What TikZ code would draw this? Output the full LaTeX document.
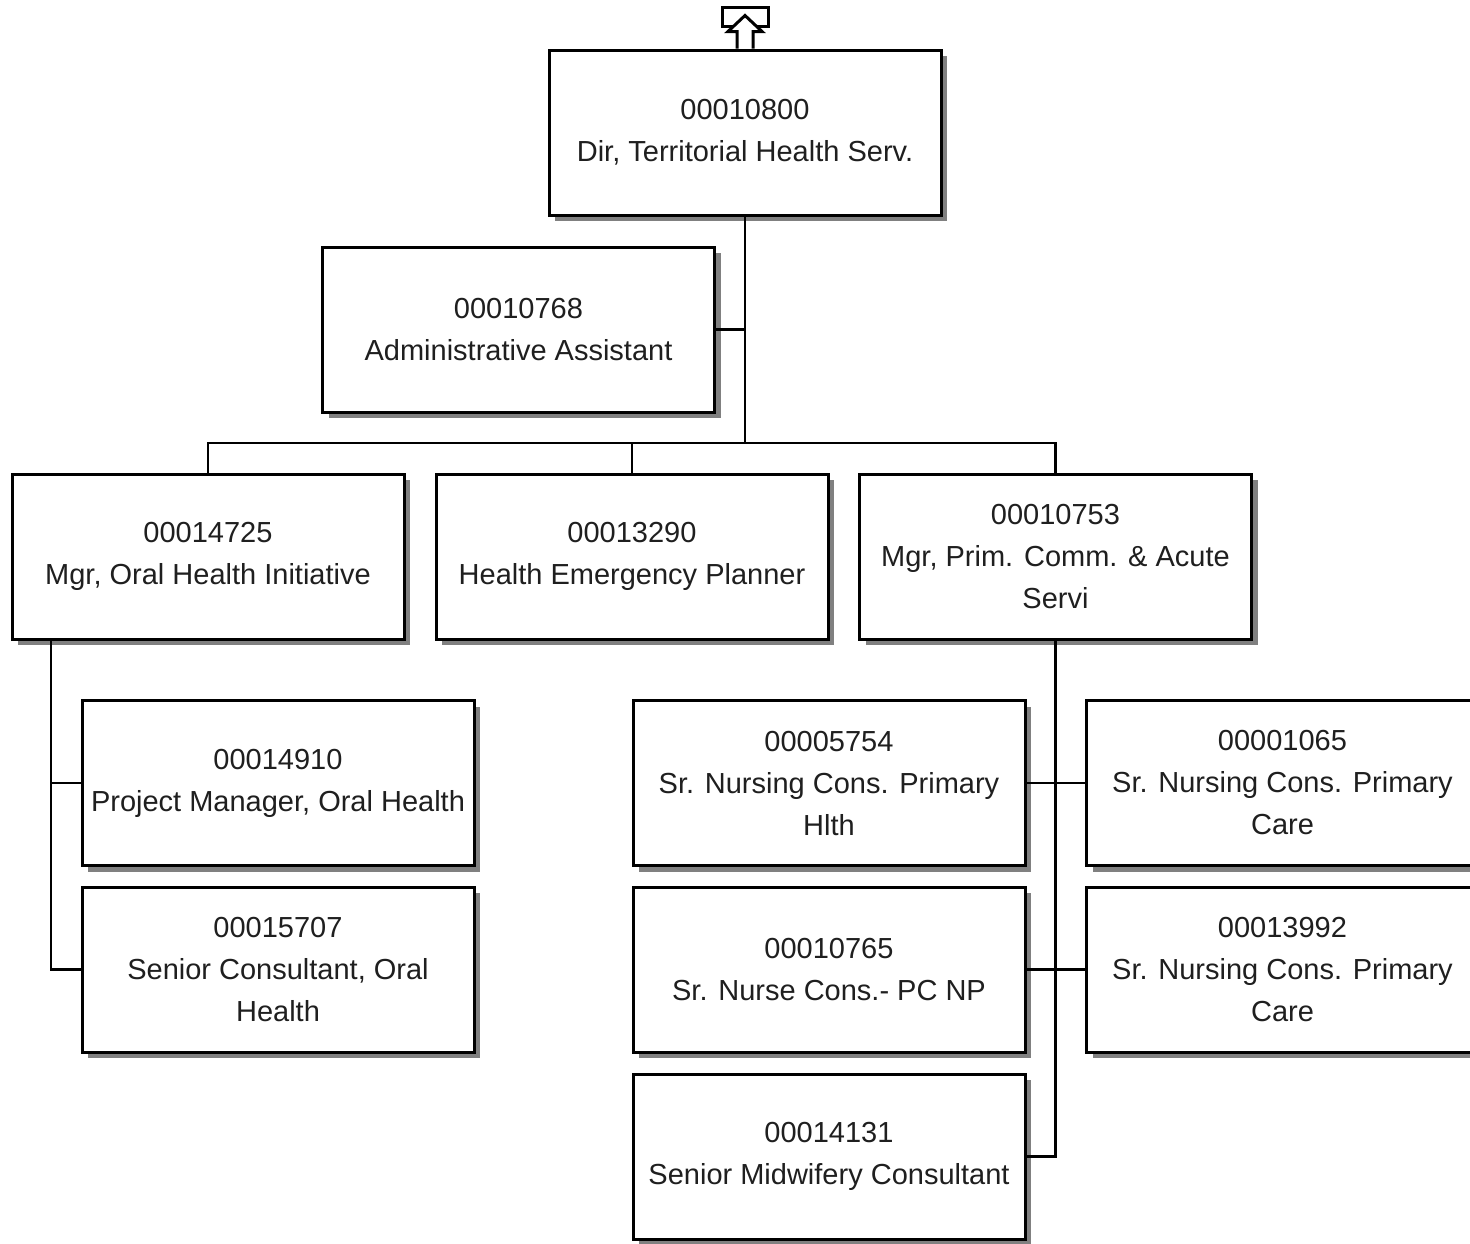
\documentclass[tikz,border=0pt]{standalone}
\usepackage{fontspec}
\setmainfont{Liberation Sans}
\usetikzlibrary{shadows}
\begin{document}
\begin{tikzpicture}[x=1pt,y=-1pt,
  posbox/.style={draw=black,line width=3pt,fill=white,minimum width=392pt,minimum height=165pt,
    inner sep=0pt,align=center,text=black!88,
    font=\fontsize{29}{42}\selectfont,
    general shadow={shadow xshift=6pt,shadow yshift=-6pt,fill=black!50}},
  link/.style={line width=2.5pt,black}]
\useasboundingbox (0,0) rectangle (1470,1243);
\clip (0,0) rectangle (1470,1243);
% boxes
\node[posbox] (top) at (745,132.5) {00010800\\Dir, Territorial Health Serv.};
\node[posbox] (admin) at (518.5,329.5) {00010768\\Administrative Assistant};
\node[posbox] (oral) at (208,556.5) {00014725\\Mgr, Oral Health Initiative};
\node[posbox] (emerg) at (632,556.5) {00013290\\Health Emergency Planner};
\node[posbox] (prim) at (1055.5,556.5) {00010753\\Mgr, Prim. Comm. \& Acute\\Servi};
\node[posbox] (pm) at (278,783) {00014910\\Project Manager, Oral Health};
\node[posbox] (sc) at (278,969.5) {00015707\\Senior Consultant, Oral\\Health};
\node[posbox] (n1) at (829,783) {00005754\\Sr. Nursing Cons. Primary\\Hlth};
\node[posbox] (n2) at (829,969.5) {00010765\\Sr. Nurse Cons.- PC NP};
\node[posbox] (n3) at (829,1156.5) {00014131\\Senior Midwifery Consultant};
\node[posbox] (r1) at (1282.5,783) {00001065\\Sr. Nursing Cons. Primary\\Care};
\node[posbox] (r2) at (1282.5,969.5) {00013992\\Sr. Nursing Cons. Primary\\Care};
% up icon
\node[draw=black,line width=3pt,minimum width=46pt,minimum height=19pt,inner sep=0pt] (up) at (745,16.5) {};
\draw[line width=3pt,fill=white,line join=miter]
  ([xshift=-8pt]top.north) -- ++(0,-17) -- ++(-9,0) -- ++(17,-16) -- ++(17,16) -- ++(-9,0) -- ([xshift=8pt]top.north);
% connectors
\coordinate (bus) at (745,443);
\draw[link] (top.south) -- (bus);
\draw[link] (admin.east) -- (admin.east -| top.south);
\draw[link] (oral.north) |- (bus);
\draw[link] (prim.north) |- (bus);
\draw[link] (emerg.north) -- (emerg.north |- bus);
\coordinate (lsp) at (51,639);
\draw[link] (lsp) |- (sc.west);
\draw[link] (pm.west) -- (pm.west -| lsp);
\draw[link] (prim.south) |- (n3.east);
\draw[link] (n1.east) -- (r1.west);
\draw[link] (n2.east) -- (r2.west);
\end{tikzpicture}
\end{document}
